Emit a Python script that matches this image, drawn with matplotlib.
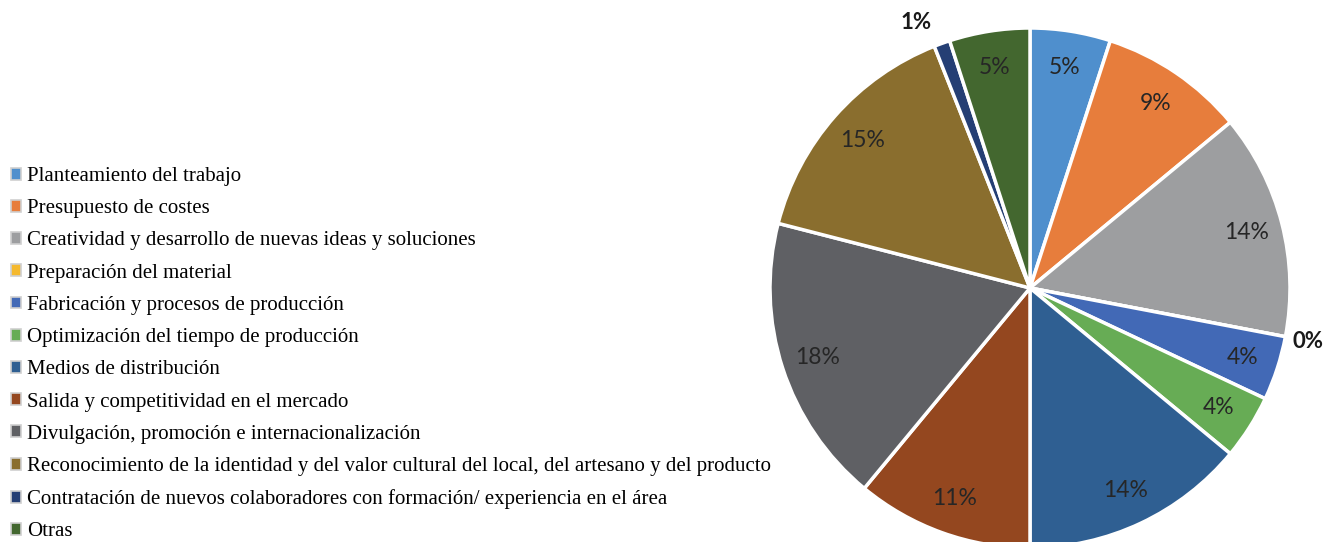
import matplotlib
matplotlib.use("Agg")
import matplotlib.pyplot as plt
from matplotlib.patches import Patch
import math

# categories, in legend / clockwise order
categorias = [
    "Planteamiento del trabajo",
    "Presupuesto de costes",
    "Creatividad y desarrollo de nuevas ideas y soluciones",
    "Preparación del material",
    "Fabricación y procesos de producción",
    "Optimización del tiempo de producción",
    "Medios de distribución",
    "Salida y competitividad en el mercado",
    "Divulgación, promoción e internacionalización",
    "Reconocimiento de la identidad y del valor cultural del local, del artesano y del producto",
    "Contratación de nuevos colaboradores con formación/ experiencia en el área",
    "Otras",
]
porcentajes = [5, 9, 14, 0, 4, 4, 14, 11, 18, 15, 1, 5]
colores = ["#4F8FCD", "#E77D3C", "#9D9EA0", "#F5B92E", "#4269B6", "#67AC55",
           "#2F5F92", "#94471F", "#5F6064", "#8A6E2E", "#253F74", "#43672F"]

W, H = 1333, 542
fig = plt.figure(figsize=(W / 100, H / 100), dpi=100)

# pie: centre ~ (1030, 288) px from top, radius ~ 260 px
cx, cy, r = 1030, 288, 260
ax = fig.add_axes([(cx - r) / W, (H - cy - r) / H, 2 * r / W, 2 * r / H])
wedges, _ = ax.pie(porcentajes, colors=colores, startangle=90, counterclock=False,
                   wedgeprops=dict(edgecolor="white", linewidth=2.5))
ax.set_xlim(-1, 1)
ax.set_ylim(-1, 1)
ax.set_aspect("equal")
ax.axis("off")

total = sum(porcentajes)
acum = 0
for v in porcentajes:
    mid = (acum + v / 2) / total * 360
    acum += v
    ang = math.radians(90 - mid)
    if v <= 1:
        # small slices: label outside the pie
        d = 1.09 if v == 0 else 1.085
        dx = 0.0 if v == 0 else -0.07
        ax.text(d * math.cos(ang) + dx, d * math.sin(ang), f"{v}%",
                ha="center", va="center", fontsize=16, fontweight="bold",
                color="#1a1a1a", family="Lato")
    else:
        d = 0.86
        ax.text(d * math.cos(ang), d * math.sin(ang), f"{v}%", ha="center",
                va="center", fontsize=16.5, color="#262626", family="Lato")

handles = [Patch(facecolor=c, edgecolor="#cfcfcf", linewidth=1.2) for c in colores]
fig.legend(handles, categorias, loc="upper left", bbox_to_anchor=(11 / W, 1 - 167 / H),
           frameon=False, prop=dict(family="Liberation Serif", size=15),
           handlelength=0.5, handleheight=0.5, handletextpad=0.25,
           labelspacing=0.635, borderaxespad=0, borderpad=0)

fig.savefig("out.png", dpi=100)
